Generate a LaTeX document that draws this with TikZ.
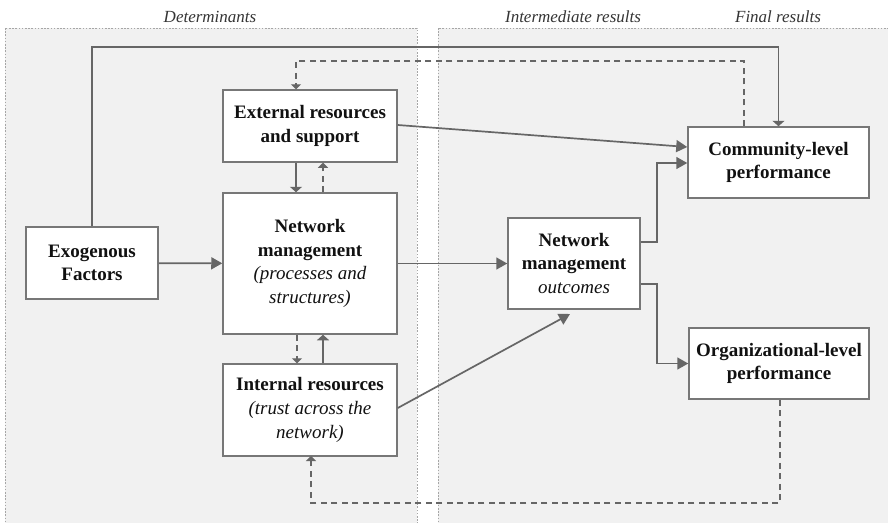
\documentclass[tikz,border=0pt]{standalone}
\usepackage{fontspec}
\setmainfont{Liberation Serif}
\usetikzlibrary{arrows.meta,calc}
\definecolor{panelfill}{HTML}{F1F1F1}
\definecolor{panelline}{HTML}{A6A6A6}
\definecolor{wire}{HTML}{666666}
\definecolor{boxline}{HTML}{777777}
\definecolor{ink}{HTML}{111111}
\tikzset{
  panel/.style={fill=panelfill, draw=panelline, line width=0.8pt, dash pattern=on 1.6pt off 1.6pt},
  phase/.style={font=\fontsize{17}{20}\selectfont\itshape, text=ink!85},
  box/.style={draw=boxline, line width=1.5pt, fill=white, inner sep=0pt, align=center,
    text=ink, font=\fontsize{19}{23.6}\selectfont},
  wireline/.style={draw=wire, line width=1.7pt},
  bigtip/.style={wireline, -{Triangle[length=11pt,width=12pt]}},
  flattip/.style={wireline, -{Triangle[length=5.5pt,width=12pt]}},
  dashline/.style={wireline, dash pattern=on 6pt off 4.5pt},
  dashtip/.style={dashline, -{Triangle[length=5pt,width=10pt]}}
}
\begin{document}
\begin{tikzpicture}[x=1pt,y=-1pt]
\useasboundingbox (0,0) rectangle (888,522);
\clip (0,0) rectangle (888,522);
\fill[white] (0,0) rectangle (888,522);

% column panels
\path[panel] (5,28) rectangle (417,526);
\path[panel] (438,28) rectangle (895,526);
\node[phase] (hdet) at (210,17) {Determinants};
\node[phase] (hint) at (573,17) {Intermediate results};
\node[phase] (hfin) at (778,17) {Final results};

% boxes
\node[box, minimum width=174pt, minimum height=72pt] (ext) at (310,126)
  {\textbf{External resources}\\\textbf{and support}};
\node[box, minimum width=174pt, minimum height=141pt] (nm) at (310,263.5)
  {\textbf{Network}\\\textbf{management}\\\textit{(processes and}\\\textit{structures)}};
\node[box, minimum width=132pt, minimum height=72pt] (exo) at (92,263)
  {\textbf{Exogenous}\\\textbf{Factors}};
\node[box, minimum width=174pt, minimum height=92pt] (int) at (310,410)
  {\textbf{Internal resources}\\\textit{(trust across the}\\\textit{network)}};
\node[box, minimum width=132pt, minimum height=91pt] (out) at (574,263.5)
  {\textbf{Network}\\\textbf{management}\\\textit{outcomes}};
\node[box, minimum width=181pt, minimum height=71pt] (comm) at (778.5,162.5)
  {\textbf{Community-level}\\\textbf{performance}};
\node[box, minimum width=180pt, minimum height=71pt] (org) at (779,363.5)
  {\textbf{Organizational-level}\\\textbf{performance}};

% routing points
\coordinate (exoTop) at (92,47);
\coordinate (fbTop) at (744,61);
\coordinate (fbBot) at (780,503);
\coordinate (splitX) at (657,0);
\coordinate (intTip) at (570,314);

% solid connectors
\draw[bigtip] (exo) -- (nm);
\draw[flattip] (exo.north) -- (exoTop) -| (comm.north);
\draw[bigtip] (ext.east |- 0,125) -- (comm.west |- 0,147);
\draw[flattip] ([xshift=-14pt]ext.south) -- ([xshift=-14pt]nm.north);
\draw[flattip] ([xshift=13pt]int.north) -- ([xshift=13pt]nm.south);
\draw[bigtip] (nm.east |- out.west) -- (out.west);
\draw[bigtip] (out.east |- 0,242) -- (splitX |- 0,242) -- (splitX |- 0,163) -- (comm.west |- 0,163);
\draw[bigtip] (out.east |- 0,284) -- (splitX |- 0,284) -- (splitX |- org.west) -- (org.west);
\draw[bigtip] (int.east |- 0,408) -- (intTip);

% dashed feedback connectors
\draw[dashtip] ([xshift=13pt]nm.north) -- ([xshift=13pt]ext.south);
\draw[dashtip] ([xshift=-13pt]nm.south) -- ([xshift=-13pt]int.north);
\draw[dashtip] (fbTop |- comm.north) -- (fbTop) -| ([xshift=-14pt]ext.north);
\draw[dashtip] (fbBot |- org.south) -- (fbBot) -| (311,456);
\end{tikzpicture}
\end{document}
